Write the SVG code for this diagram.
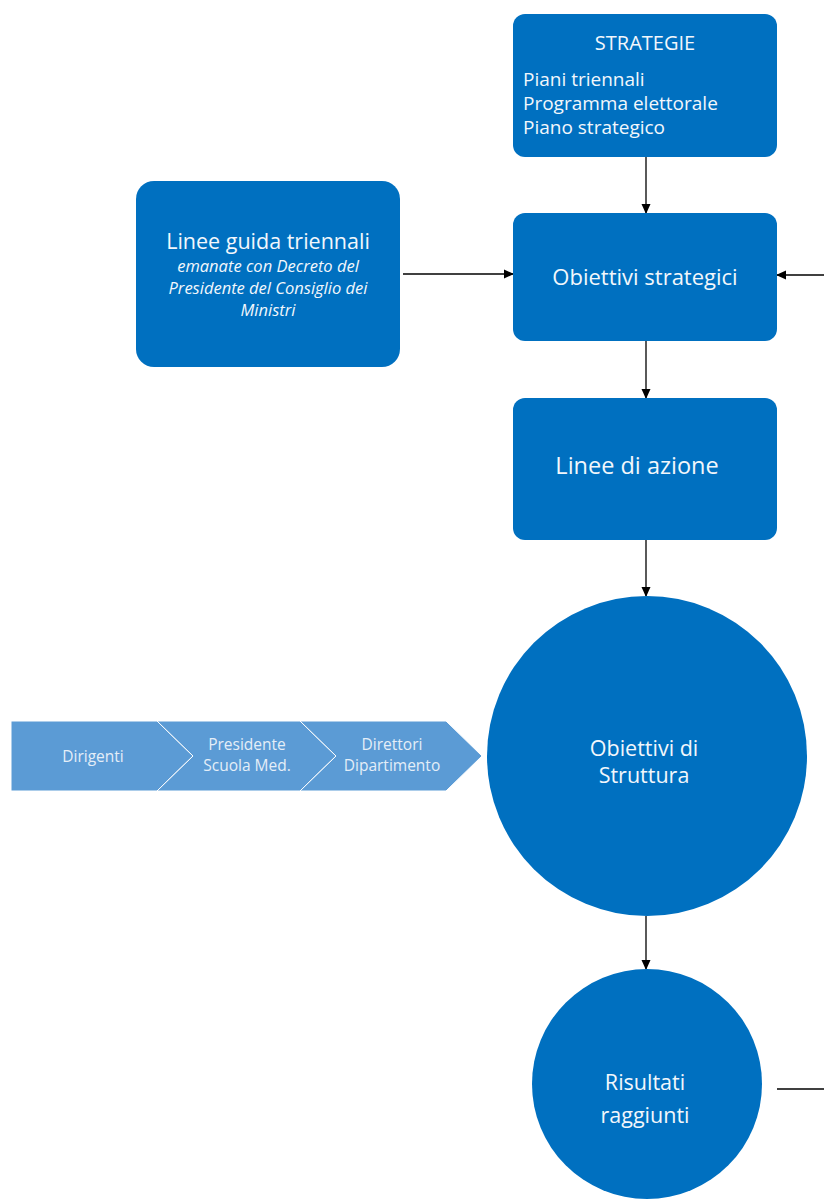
<svg xmlns="http://www.w3.org/2000/svg" width="824" height="1201" viewBox="0 0 824 1201">
<style>
.box{fill:#0070C0}
.chev{fill:#5B9BD5;stroke:#FFFFFF;stroke-width:1}
.t{font-family:"Open Sans","Liberation Sans",sans-serif;fill:#F2F7FC}
.c{text-anchor:middle}
.ct{font-family:"Open Sans","Liberation Sans",sans-serif;fill:#E4EEF8;font-size:15.5px;text-anchor:middle}
.ln{stroke:#000;stroke-width:1.3;fill:none}
</style>
<defs>
<marker id="ah" markerWidth="10" markerHeight="10" refX="9" refY="5" orient="auto" markerUnits="userSpaceOnUse">
<path d="M0,0.5 L10,5 L0,9.5 Z" fill="#000"/>
</marker>
</defs>
<rect width="824" height="1201" fill="#FFFFFF"/>
<g id="connectors">
<line class="ln" x1="646" y1="157" x2="646" y2="213" marker-end="url(#ah)"/>
<line class="ln" x1="646" y1="341" x2="646" y2="398" marker-end="url(#ah)"/>
<line class="ln" x1="646" y1="540" x2="646" y2="596" marker-end="url(#ah)"/>
<line class="ln" x1="646" y1="916" x2="646" y2="969" marker-end="url(#ah)"/>
<line class="ln" x1="403" y1="274" x2="513" y2="274" marker-end="url(#ah)"/>
<line class="ln" x1="824" y1="275" x2="777" y2="275" marker-end="url(#ah)"/>
<line class="ln" x1="777" y1="1089" x2="824" y2="1089"/>
</g>
<g id="strategie">
<rect class="box" x="513" y="14" width="264" height="143" rx="12"/>
<text class="t c" x="645" y="50" font-size="20">STRATEGIE</text>
<text class="t" x="523" y="86" font-size="19">Piani triennali</text>
<text class="t" x="523" y="110" font-size="19">Programma elettorale</text>
<text class="t" x="523" y="134" font-size="19">Piano strategico</text>
</g>
<g id="linee-guida">
<rect class="box" x="136" y="181" width="264" height="186" rx="18"/>
<text class="t c" x="268" y="249" font-size="21.5">Linee guida triennali</text>
<text class="t c" x="268" y="272" font-size="16.5" font-style="italic">emanate con Decreto del</text>
<text class="t c" x="268" y="294" font-size="16.5" font-style="italic">Presidente del Consiglio dei</text>
<text class="t c" x="268" y="316" font-size="16.5" font-style="italic">Ministri</text>
</g>
<g id="obiettivi-strategici">
<rect class="box" x="513" y="213" width="264" height="128" rx="12"/>
<text class="t c" x="645" y="285" font-size="22">Obiettivi strategici</text>
</g>
<g id="linee-azione">
<rect class="box" x="513" y="398" width="264" height="142" rx="12"/>
<text class="t c" x="637" y="474" font-size="23.5">Linee di azione</text>
</g>
<g id="chevrons">
<g id="dirigenti">
<path class="chev" d="M11,721 L157,721 L193,756 L157,791 L11,791 Z"/>
<text class="ct" x="93" y="762">Dirigenti</text>
</g>
<g id="presidente">
<path class="chev" d="M157,721 L300,721 L336,756 L300,791 L157,791 L193,756 Z"/>
<text class="ct" x="247" y="750">Presidente</text>
<text class="ct" x="247" y="771">Scuola Med.</text>
</g>
<g id="direttori">
<path class="chev" d="M300,721 L446,721 L482,756 L446,791 L300,791 L336,756 Z"/>
<text class="ct" x="392" y="750">Direttori</text>
<text class="ct" x="392" y="771">Dipartimento</text>
</g>
</g>
<g id="obiettivi-struttura">
<circle class="box" cx="647" cy="756" r="160"/>
<text class="t c" x="644" y="756" font-size="21.5">Obiettivi di</text>
<text class="t c" x="644" y="783" font-size="21.5">Struttura</text>
</g>
<g id="risultati">
<circle class="box" cx="647" cy="1084" r="115"/>
<text class="t c" x="645" y="1090" font-size="21.5">Risultati</text>
<text class="t c" x="645" y="1123" font-size="21.5">raggiunti</text>
</g>
</svg>
